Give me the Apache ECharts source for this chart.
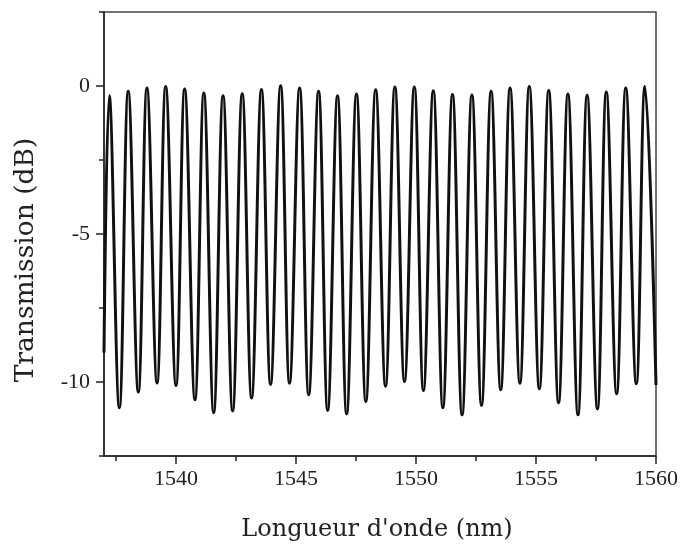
<!DOCTYPE html>
<html>
<head>
<meta charset="utf-8">
<script src="https://cdn.jsdelivr.net/npm/echarts@6/dist/echarts.min.js"></script>
<style>
html,body{margin:0;padding:0;background:#fff;}
#chart{width:681px;height:548px;}
</style>
</head>
<body>
<div id="chart"></div>
<script>
// Peak (maximum) wavelengths in nm and their transmission in dB
const peakX = [1537.22,1538.01,1538.79,1539.57,1540.36,1541.16,1541.96,1542.76,1543.56,1544.36,
               1545.15,1545.94,1546.73,1547.52,1548.32,1549.12,1549.93,1550.72,1551.52,1552.33,
               1553.13,1553.92,1554.72,1555.53,1556.33,1557.13,1557.93,1558.74,1559.54];
const peakY = [-0.33,-0.18,-0.07,-0.02,-0.10,-0.24,-0.33,-0.26,-0.12,0.01,
               -0.07,-0.18,-0.33,-0.27,-0.13,-0.03,-0.03,-0.16,-0.29,-0.30,
               -0.18,-0.07,-0.02,-0.15,-0.27,-0.31,-0.20,-0.07,-0.02];
// Trough (minimum) wavelengths in nm and their transmission in dB
const troughX = [1537.64,1538.43,1539.21,1540.00,1540.79,1541.57,1542.36,1543.15,1543.94,1544.73,
                 1545.53,1546.32,1547.11,1547.91,1548.73,1549.52,1550.31,1551.12,1551.92,1552.73,
                 1553.53,1554.33,1555.14,1555.94,1556.75,1557.56,1558.36,1559.18];
const troughY = [-10.87,-10.34,-10.03,-10.12,-10.60,-11.04,-10.98,-10.54,-10.08,-10.04,
                 -10.43,-10.96,-11.08,-10.66,-10.14,-9.98,-10.29,-10.87,-11.11,-10.79,
                 -10.26,-10.04,-10.23,-10.70,-11.11,-10.91,-10.40,-10.06];
// Values where the trace meets the left and right edges of the plot
const edgeX = [1537.0, 1560.0];
const edgeY = [-9.0, -10.1];

// Axis ticks and labels
const xTicks = [1540, 1545, 1550, 1555, 1560];
const xMinorTicks = [1537.5, 1542.5, 1547.5, 1552.5, 1557.5];
const yTicks = [0, -5, -10];
const yMinorTicks = [2.5, -2.5, -7.5, -12.5];
const xTitle = "Longueur d'onde (nm)";
const yTitle = "Transmission (dB)";

// Build the ordered trace
const trace = [];
trace.push([edgeX[0], edgeY[0]]);
peakX.forEach((x, i) => trace.push([x, peakY[i]]));
troughX.forEach((x, i) => trace.push([x, troughY[i]]));
trace.push([edgeX[1], edgeY[1]]);
trace.sort((a, b) => a[0] - b[0]);

const axisColor = '#222';
const labelFont = { fontFamily: 'Liberation Serif', fontSize: 22, color: '#222' };

const chart = echarts.init(document.getElementById('chart'), null, { renderer: 'canvas' });
chart.setOption({
  animation: false,
  backgroundColor: '#fff',
  grid: { left: 104, top: 12, right: 25, bottom: 92, show: true, borderColor: '#444', borderWidth: 1.5, backgroundColor: 'transparent' },
  xAxis: [
    {
      type: 'value', min: 1537, max: 1560, position: 'bottom',
      axisLine: { show: true, onZero: false, lineStyle: { color: axisColor, width: 1.5 } },
      axisTick: { show: true, inside: false, length: 8, customValues: xTicks, lineStyle: { color: axisColor, width: 1.5 } },
      axisLabel: { show: true, margin: 12, customValues: xTicks, formatter: v => String(v), ...labelFont },
      splitLine: { show: false }
    },
    {
      type: 'value', min: 1537, max: 1560, position: 'bottom',
      axisLine: { show: false, onZero: false },
      axisTick: { show: true, inside: false, length: 5, customValues: xMinorTicks, lineStyle: { color: axisColor, width: 1.5 } },
      axisLabel: { show: false },
      splitLine: { show: false }
    }
  ],
  yAxis: [
    {
      type: 'value', min: -12.5, max: 2.5, position: 'left',
      axisLine: { show: true, onZero: false, lineStyle: { color: axisColor, width: 1.5 } },
      axisTick: { show: true, inside: false, length: 8, customValues: yTicks, lineStyle: { color: axisColor, width: 1.5 } },
      axisLabel: { show: true, margin: 14, customValues: yTicks, formatter: v => String(v), ...labelFont },
      splitLine: { show: false }
    },
    {
      type: 'value', min: -12.5, max: 2.5, position: 'left',
      axisLine: { show: false, onZero: false },
      axisTick: { show: true, inside: false, length: 5, customValues: yMinorTicks, lineStyle: { color: axisColor, width: 1.5 } },
      axisLabel: { show: false },
      splitLine: { show: false }
    }
  ],
  graphic: [
    {
      type: 'text', x: 377, y: 530,
      style: { text: xTitle, font: '24px "DejaVu Serif"', fill: '#222', textAlign: 'center', textVerticalAlign: 'middle' }
    },
    {
      type: 'text', x: 26, y: 260, rotation: Math.PI / 2,
      style: { text: yTitle, font: '26.5px "DejaVu Serif"', fill: '#222', textAlign: 'center', textVerticalAlign: 'middle' }
    }
  ],
  series: [{
    type: 'line',
    xAxisIndex: 0, yAxisIndex: 0,
    data: trace,
    showSymbol: false,
    smooth: 0.4,
    clip: true,
    lineStyle: { color: '#111', width: 3 }
  }]
});
</script>
</body>
</html>
